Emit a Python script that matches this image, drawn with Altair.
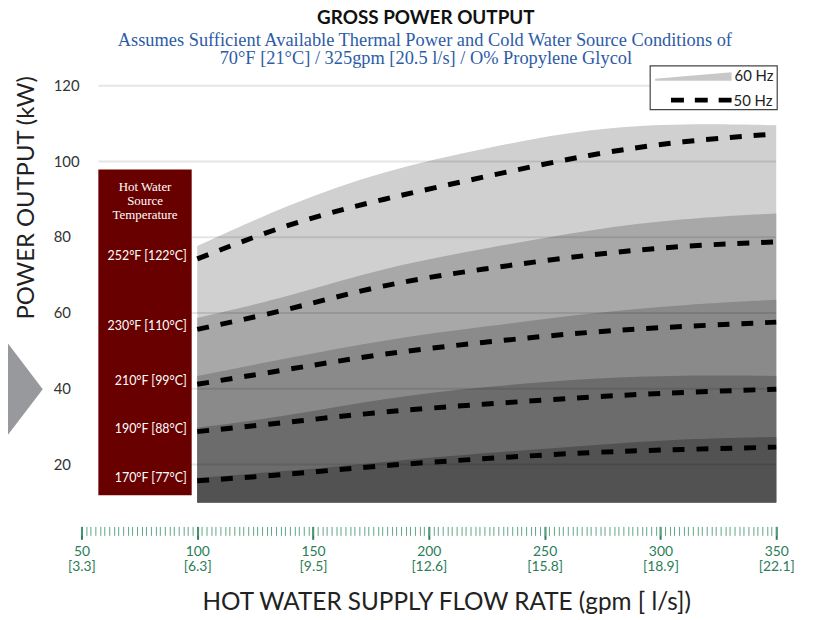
import json
import altair as alt
import pandas as pd

# ---------------- data ----------------
gpm = [100, 140, 180, 225, 270, 310, 350]

temp_labels = ["252°F [122°C]", "230°F [110°C]", "210°F [99°C]", "190°F [88°C]", "170°F [77°C]"]

# 60 Hz envelope (area tops), kW
hz60_252 = [77.7, 88.9, 97.5, 103.7, 108.8, 110.1, 109.6]
hz60_230 = [58.7, 64.4, 72.0, 77.1, 82.1, 85.0, 86.3]
hz60_210 = [43.4, 48.2, 52.9, 56.5, 60.0, 62.2, 63.5]
hz60_190 = [29.7, 32.9, 37.5, 40.6, 42.8, 43.6, 43.4]
hz60_170 = [16.5, 18.3, 20.7, 23.1, 25.1, 26.8, 27.3]

# 50 Hz (dashed lines), kW
hz50_252 = [74.3, 83.8, 90.1, 96.1, 102.0, 105.5, 107.3]
hz50_230 = [55.7, 60.9, 67.6, 71.8, 75.5, 77.8, 78.8]
hz50_210 = [41.2, 45.2, 49.3, 52.4, 55.1, 56.5, 57.6]
hz50_190 = [28.7, 31.2, 34.0, 36.0, 37.9, 39.1, 39.9]
hz50_170 = [15.7, 17.4, 19.8, 21.6, 23.3, 24.0, 24.6]

area_floor = 10

x_major = [50, 100, 150, 200, 250, 300, 350]
x_major_ls = ["3.3", "6.3", "9.5", "12.6", "15.8", "18.9", "22.1"]
x_minor = list(range(50, 352, 2))
y_ticks = [20, 40, 60, 80, 100, 120]

box_x = [57.3, 97.6]
box_y = [11.9, 97.9]

area_colors = ["#d0d0d0", "#a8a8a8", "#8a8a8a", "#6c6c6c", "#525252"]

hz60 = [hz60_252, hz60_230, hz60_210, hz60_190, hz60_170]
hz50 = [hz50_252, hz50_230, hz50_210, hz50_190, hz50_170]

# ---------------- scales ----------------
W, H = 700, 477
xs = alt.Scale(domain=[50, 350], nice=False, zero=False)
ys = alt.Scale(domain=[0, 125], nice=False, zero=False)

GREEN = "#2a7d58"
label_expr = "[datum.label, '[' + " + json.dumps(x_major_ls) + "[round((datum.value-50)/50)] + ']']"

major_axis = alt.Axis(values=x_major, orient="bottom", offset=-14, domain=False, grid=False,
                      tickSize=13, tickWidth=2, tickColor=GREEN, labelColor=GREEN,
                      labelFont="Lato", labelFontSize=14, labelLineHeight=15,
                      labelBaseline="top", labelPadding=5, labelExpr=label_expr,
                      labelFlush=False, labelOverlap=False, title=None)
minor_axis = alt.Axis(values=x_minor, orient="bottom", offset=-14, domain=False, grid=False,
                      tickSize=9, tickWidth=1, tickColor="#5fa585", labels=False, title=None)

layers = []

# chevron decoration at the left edge
layers.append(
    alt.Chart(pd.DataFrame({"a": [0]})).mark_point(
        shape="M-1,-2.63L1,0L-1,2.63Z", size=1225, filled=True, fill="#97999c",
        opacity=1, strokeWidth=0
    ).encode(x=alt.value(-56.5), y=alt.value(324.75))
)

# 60 Hz areas
for i in range(5):
    df = pd.DataFrame({"gpm": gpm, "kw": hz60[i]})
    layers.append(
        alt.Chart(df).mark_area(color=area_colors[i], interpolate="basis", opacity=1).encode(
            x=alt.X("gpm:Q", scale=xs, axis=major_axis if i == 0 else None),
            y=alt.Y("kw:Q", scale=ys, axis=None),
            y2=alt.datum(area_floor),
        )
    )

# gridlines
grid_df = pd.DataFrame({"y": y_ticks, "x": [box_x[0]] * len(y_ticks), "x2": [350] * len(y_ticks)})
layers.append(
    alt.Chart(grid_df).mark_rule(color="black", opacity=0.1, strokeWidth=2).encode(
        x=alt.X("x:Q", scale=xs, axis=None), x2="x2:Q",
        y=alt.Y("y:Q", scale=ys, axis=None),
    )
)

# y tick labels
ylab_df = pd.DataFrame({"y": y_ticks, "t": [str(v) for v in y_ticks]})
layers.append(
    alt.Chart(ylab_df).mark_text(align="left", baseline="middle", font="Lato", fontSize=15,
                                 color="#333333").encode(
        x=alt.value(-28),
        y=alt.Y("y:Q", scale=ys, axis=None),
        text="t:N",
    )
)

# red box
box_df = pd.DataFrame({"x": [box_x[0]], "x2": [box_x[1]], "y": [box_y[0]], "y2": [box_y[1]]})
layers.append(
    alt.Chart(box_df).mark_rect(color="#690000").encode(
        x=alt.X("x:Q", scale=xs, axis=None), x2="x2:Q",
        y=alt.Y("y:Q", scale=ys, axis=None), y2="y2:Q",
    )
)

# 50 Hz dashed lines
for i in range(5):
    df = pd.DataFrame({"gpm": gpm, "kw": hz50[i]})
    layers.append(
        alt.Chart(df).mark_line(color="black", strokeWidth=5, strokeDash=[12, 12],
                                interpolate="basis", strokeCap="butt").encode(
            x=alt.X("gpm:Q", scale=xs, axis=minor_axis if i == 0 else None),
            y=alt.Y("kw:Q", scale=ys, axis=None),
        )
    )

# temperature labels in red box
lab_df = pd.DataFrame({"label": temp_labels, "y": [v[0] for v in hz50], "x": [box_x[1]] * 5})
layers.append(
    alt.Chart(lab_df).mark_text(align="right", baseline="middle", color="white",
                                font="Lato", fontSize=12.5, dx=-5, dy=-3).encode(
        x=alt.X("x:Q", scale=xs, axis=None),
        y=alt.Y("y:Q", scale=ys, axis=None),
        text="label:N",
    )
)

# box heading
head_df = pd.DataFrame({"x": [(box_x[0] + box_x[1]) / 2], "y": [box_y[1]]})
layers.append(
    alt.Chart(head_df).mark_text(align="center", baseline="alphabetic", color="white",
                                 font="Liberation Serif", fontSize=13, lineHeight=14, dy=22).encode(
        x=alt.X("x:Q", scale=xs, axis=None),
        y=alt.Y("y:Q", scale=ys, axis=None),
        text=alt.value(["Hot Water", "Source", "Temperature"]),
    )
)

one = pd.DataFrame({"a": [0]})

def txt(text, x, y, **kw):
    return alt.Chart(one).mark_text(**kw).encode(x=alt.value(x), y=alt.value(y), text=alt.value(text))

# titles
layers.append(txt("GROSS POWER OUTPUT", 347, -43, align="center", baseline="alphabetic",
                  font="Lato", fontSize=19, fontWeight="bold", color="#111111"))
layers.append(txt("Assumes Sufficient Available Thermal Power and Cold Water Source Conditions of",
                  346, -21, align="center", baseline="alphabetic", font="Liberation Serif",
                  fontSize=18.5, color="#2d5ca6"))
layers.append(txt("70°F [21°C] / 325gpm [20.5 l/s] / O% Propylene Glycol",
                  347, -3, align="center", baseline="alphabetic", font="Liberation Serif",
                  fontSize=18.5, color="#2d5ca6"))
layers.append(txt("POWER OUTPUT (kW)", -55, 132, align="center", baseline="middle",
                  font="Lato", fontSize=24, color="#222222", angle=270))
layers.append(txt("HOT WATER SUPPLY FLOW RATE (gpm [ l/s])", 368, 547, align="center",
                  baseline="alphabetic", font="Lato", fontSize=24.5, color="#222222"))

# legend
layers.append(
    alt.Chart(one).mark_rect(fill="white", stroke="#444444", strokeWidth=1.2).encode(
        x=alt.value(573), x2=alt.value(701), y=alt.value(-1), y2=alt.value(43)
    )
)
layers.append(
    alt.Chart(one).mark_point(shape="M-1,0.06L1,-0.11L1,0.11L-1,0.11Z", size=5929, filled=True,
                              fill="#c8c8c8", opacity=1, strokeWidth=0).encode(
        x=alt.value(616.5), y=alt.value(9.75)
    )
)
layers.append(
    alt.Chart(one).mark_rule(color="black", strokeWidth=5, strokeDash=[13, 11]).encode(
        x=alt.value(594), x2=alt.value(656), y=alt.value(33.5)
    )
)
layers.append(txt("60 Hz", 658, 14.5, align="left", baseline="alphabetic", font="Lato",
                  fontSize=15, color="#222222"))
layers.append(txt("50 Hz", 657, 39, align="left", baseline="alphabetic", font="Lato",
                  fontSize=15, color="#222222"))

chart = alt.layer(*layers).resolve_axis(x="independent").properties(
    width=W, height=H,
    padding={"left": 74, "top": 57, "right": 30, "bottom": 78},
    autosize=alt.AutoSizeParams(type="none"),
    background="white",
).configure_view(strokeWidth=0)

chart.save("out.html", embed_options={"renderer": "svg", "actions": False})
